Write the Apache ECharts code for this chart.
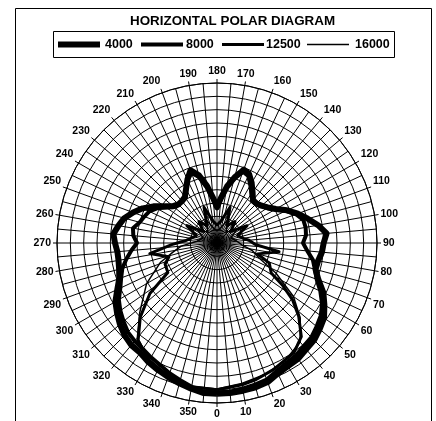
<!DOCTYPE html>
<html>
<head>
<meta charset="utf-8">
<script src="https://cdn.jsdelivr.net/npm/echarts@6/dist/echarts.min.js"></script>
<style>html,body{margin:0;padding:0;background:#fff}#c{width:436px;height:421px}</style>
</head>
<body>
<div id="c"></div>
<script>
var titleText = 'HORIZONTAL POLAR DIAGRAM';
var seriesNames = ['4000', '8000', '12500', '16000'];

var angA = [0,5,10,15,20,25,30,35,40,45,50,55,60,65,70,75,80,85,90,95,100,105,110,115,120,125,130,135,140,145,150,155,160,165,170,175,180,185,190,195,200,205,210,215,220,225,230,235,240,245,250,255,260,265,270,275,280,285,290,295,300,305,310,315,320,325,330,335,340,345,350,355,360];
var valA = [113,113,112.5,112,111,108,106.5,106,104,103,100.5,98,93,88,81,76.5,77,79,80,82.5,77,70.5,64.5,58,51,46.5,43.5,42,42,46.5,52,57,58.5,51,43,34,27,34,43.5,52.5,58,52.5,46.5,42,41,41,43,48,55,61.5,67,72,75,78,76.5,75,75,76,78,82.5,88,91.5,95,98,100,100.5,103,105,107,109,111,113,113];

var angB = angA;
var valB = [112,112,111,110,109,106,104,103,101,100,97.5,95,91,85.5,79.5,76,73,68,64.5,67,67.5,67,63,57,50,46,43,41,41,45,50,55.5,57,50,42,33,26,33,42,51,56,52,46,41,40.5,40.5,42,46.5,52,56,58,60,64,63,60,64.5,69,73.5,76.5,80,85,88.5,91.5,94.5,96,97,99,101,104,106.5,109.5,112,112];

var angC = [0,10,16,24,35,42,48,53,57,61,69,75,82,88,95,100,110,120,130,140,150,160,170,180,190,200,210,220,230,240,250,260,266,272,279,286,292,301,307,314,321,331,342,350,360];
var valC = [110,108,106.5,104,100.5,94.5,82.5,71,59,46.5,42,31.5,47,28.5,24,20,16.5,26,13.5,21,15,28.5,16.5,13.5,16.5,28.5,15,21,13.5,26,16.5,20,24,34,51,37.5,42,43,63,80,94,103,108,109.5,110];

var angD = [0,10,20,30,40,48,55,63,70,78,85,95,110,125,140,155,170,180,190,205,220,235,250,265,275,282,289,300,312,320,330,340,350,360];
var valD = [109.5,107,105,102,97,84,70,49.5,34,27,19,15,11,18,10.5,19.5,10.5,9,10.5,19.5,10.5,18,11,15,27,34,45,61,78,93,101,106,109,109.5];

var seriesAngles = [angA, angB, angC, angD];
var seriesValues = [valA, valB, valC, valD];
var lineWidths = [6, 4, 3, 1.5];

// legend layout (pixel positions of each key line start and its label)
var legendLineX = [58, 141, 222, 307];
var legendTextX = [105, 186, 266, 355];

var FONT = '"Liberation Sans", Arial, sans-serif';
var chart = echarts.init(document.getElementById('c'), null, {renderer: 'canvas'});

var series = seriesNames.map(function (n, i) {
  return {
    name: n,
    type: 'line',
    coordinateSystem: 'polar',
    symbol: 'none',
    smooth: false,
    animation: false,
    lineStyle: {color: '#000', width: lineWidths[i], join: 'round'},
    itemStyle: {color: '#000'},
    data: seriesValues[i].map(function (v, k) { return [v, seriesAngles[i][k]]; })
  };
});

var graphics = [{
  type: 'rect', left: 13, top: 6,
  shape: {width: 416, height: 440},
  style: {fill: 'none', stroke: '#000', lineWidth: 1},
  z: 100
}, {
  type: 'rect', left: 53, top: 31,
  shape: {width: 341, height: 26},
  style: {fill: '#fff', stroke: '#000', lineWidth: 1},
  z: 100
}];
seriesNames.forEach(function (n, i) {
  graphics.push({
    type: 'line', z: 101,
    shape: {x1: legendLineX[i], y1: 44.5, x2: legendLineX[i] + 42, y2: 44.5},
    style: {stroke: '#000', lineWidth: lineWidths[i], lineCap: 'butt'}
  });
  graphics.push({
    type: 'text', z: 101, x: legendTextX[i], y: 45,
    style: {text: n, fill: '#000', font: 'bold 12.5px ' + FONT, textVerticalAlign: 'middle', verticalAlign: 'middle'}
  });
});

chart.setOption({
  backgroundColor: '#fff',
  animation: false,
  title: {
    text: titleText, left: 125, top: 10,
    textStyle: {color: '#000', fontFamily: FONT, fontWeight: 'bold', fontSize: 13.4}
  },
  graphic: graphics,
  polar: {center: [217, 243], radius: 160},
  angleAxis: {
    type: 'value', min: 0, max: 360, interval: 10,
    startAngle: 270, clockwise: false,
    axisLine: {show: true, lineStyle: {color: '#000', width: 1}},
    axisTick: {show: true, length: 4, lineStyle: {color: '#000', width: 1}},
    minorTick: {show: false, splitNumber: 2},
    minorSplitLine: {show: true, lineStyle: {color: '#000', width: 1}},
    splitLine: {show: true, lineStyle: {color: '#000', width: 1}},
    axisLabel: {color: '#000', fontFamily: FONT, fontWeight: 'bold', fontSize: 10.5, margin: 6}
  },
  radiusAxis: {
    type: 'value', min: 0, max: 120, interval: 10,
    axisLine: {show: false}, axisTick: {show: false}, axisLabel: {show: false},
    splitLine: {show: true, lineStyle: {color: '#000', width: 1}}
  },
  series: series
});
</script>
</body>
</html>
